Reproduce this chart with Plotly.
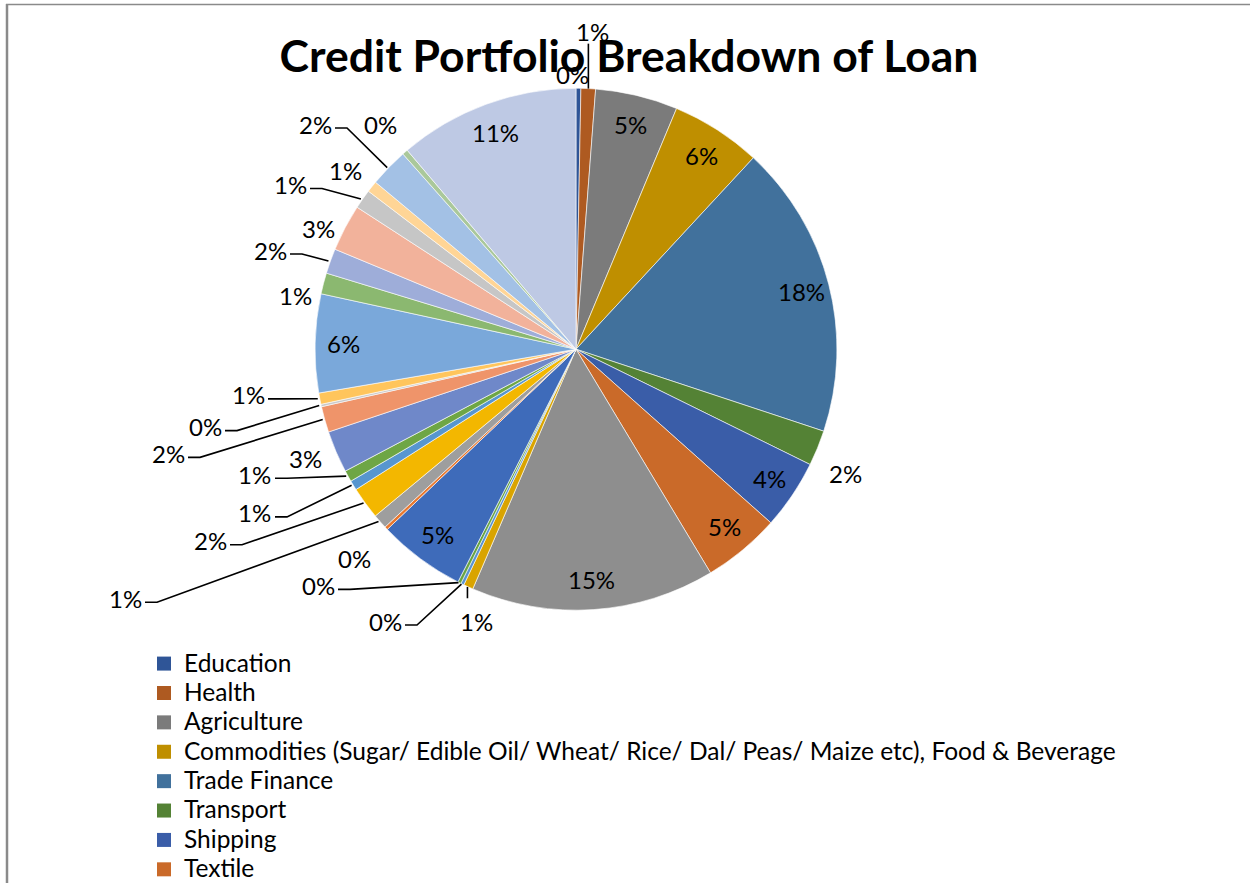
import math
import plotly.graph_objects as go

# Credit portfolio by sector, share of total loans (%)
legend_sectors = [
    "Education",
    "Health",
    "Agriculture",
    "Commodities (Sugar/ Edible Oil/ Wheat/ Rice/ Dal/ Peas/ Maize etc), Food & Beverage",
    "Trade Finance",
    "Transport",
    "Shipping",
    "Textile",
]
other_sectors = [f"Sector {i}" for i in range(9, 32)]
sectors = legend_sectors + other_sectors

shares = [
    0.3, 0.9, 5.1, 5.6, 18.2, 2.2, 4.3, 4.8,
    15.1, 0.6, 0.2, 0.2, 5.4, 0.2, 0.9, 2.0,
    0.6, 0.7, 2.6, 1.6, 0.15, 0.7, 6.1, 1.3,
    1.55, 2.9, 1.2, 0.7, 2.4, 0.35, 11.2,
]

slice_colors = [
    "#2F5597", "#AE5A21", "#7B7B7B", "#BF8F00", "#41719C", "#548235", "#3A5DA8", "#CA6A29",
    "#8E8E8E", "#D9A400", "#5A93D0", "#68A443", "#3E6BBA", "#E9782F", "#9E9E9E", "#F3B700",
    "#5796CF", "#6EA645", "#6F88C9", "#EF946A", "#C9C9C9", "#FFC55C", "#7AA8DA", "#8BB870",
    "#9EADD9", "#F2B29B", "#C6C6C6", "#FFD596", "#A3C1E5", "#AAC89B", "#BEC9E4",
]

# where the labels of the narrow slices sit (pixels) and how their leader runs
outside_labels = {
    0: (572, 75, None),
    1: (592, 32, "up"),
    5: (845, 477, None),
    9: (476, 626, "down"),
    10: (385, 626, "left"),
    11: (318, 590, "left"),
    13: (355, 563, None),
    14: (125, 603, "left"),
    15: (210, 545, "left"),
    16: (255, 517, "left"),
    17: (255, 478, "left"),
    18: (305, 462, None),
    19: (168, 457, "left"),
    20: (205, 430, "left"),
    21: (248, 398, "left"),
    23: (295, 298, None),
    24: (270, 252, "left"),
    25: (318, 230, None),
    26: (290, 186, "left"),
    27: (345, 172, None),
    28: (315, 125, "left"),
    29: (380, 125, None),
}

W, H = 1250, 890
cx, cy, r = 576, 352, 263
LABEL_FONT = dict(family="Lato", size=24, color="black")


def px(x):
    return x / W


def py(y):
    return 1 - y / H


fig = go.Figure()
fig.add_trace(go.Pie(
    labels=sectors,
    values=shares,
    sort=False,
    direction="clockwise",
    rotation=0,
    marker=dict(colors=slice_colors, line=dict(color="white", width=0.6)),
    textinfo="none",
    domain=dict(x=[px(cx - r), px(cx + r)], y=[py(cy + r), py(cy - r)]),
    showlegend=False,
    hoverinfo="label+percent",
))

# percentage labels, placed from each slice's mid angle
total = sum(shares)
annotations = []
shapes = []
cum = 0.0
for i, s in enumerate(shares):
    mid = 2 * math.pi * (cum + s / 2) / total
    cum += s
    text = f"{round(100 * s / total)}%"
    ex, ey = cx + r * math.sin(mid), cy - r * math.cos(mid)
    if i in outside_labels:
        lx, ly, kind = outside_labels[i]
        if kind == "left":
            path = f"M{px(lx + 20)},{py(ly + 4)} L{px(lx + 32)},{py(ly + 4)} L{px(ex)},{py(ey)}"
        elif kind == "up":
            path = f"M{px(ex)},{py(ly + 12)} L{px(ex)},{py(ey)}"
        elif kind == "down":
            path = f"M{px(ex)},{py(ey)} L{px(ex)},{py(ly - 23)}"
        else:
            path = None
        if path:
            shapes.append(dict(type="path", xref="paper", yref="paper", path=path,
                               line=dict(color="black", width=1.6)))
    else:
        lx, ly = cx + 0.885 * r * math.sin(mid), cy - 0.885 * r * math.cos(mid)
    annotations.append(dict(x=px(lx), y=py(ly), xref="paper", yref="paper", text=text,
                            showarrow=False, xanchor="center", yanchor="middle",
                            font=LABEL_FONT))

# legend entries for the first eight sectors
for name, col in zip(legend_sectors, slice_colors[:8]):
    fig.add_trace(go.Scatter(
        x=[None], y=[None], mode="markers",
        name=f'<span style="font-size:24.5px">{name}</span>',
        marker=dict(symbol="square", size=14, color=col),
        hoverinfo="skip",
    ))

shapes += [
    dict(type="line", xref="paper", yref="paper", x0=px(6), x1=1, y0=py(4.5), y1=py(4.5),
         line=dict(color="#8A8A8A", width=1.5)),
    dict(type="line", xref="paper", yref="paper", x0=px(7), x1=px(7), y0=0, y1=py(4),
         line=dict(color="#8A8A8A", width=2.5)),
]

fig.update_layout(
    width=W, height=H,
    margin=dict(l=0, r=0, t=0, b=0),
    paper_bgcolor="white",
    plot_bgcolor="white",
    title=dict(
        text="<b>Credit Portfolio Breakdown of Loan</b>",
        x=px(629), xanchor="center",
        y=py(56), yanchor="middle",
        font=dict(family="Lato", size=44.5, color="black"),
    ),
    xaxis=dict(visible=False),
    yaxis=dict(visible=False),
    legend=dict(
        x=px(144), xanchor="left",
        y=py(649), yanchor="top",
        font=dict(family="Lato", size=20.3, color="black"),
        bgcolor="rgba(0,0,0,0)",
        itemsizing="trace",
    ),
    annotations=annotations,
    shapes=shapes,
)

fig.write_html("out.html")
